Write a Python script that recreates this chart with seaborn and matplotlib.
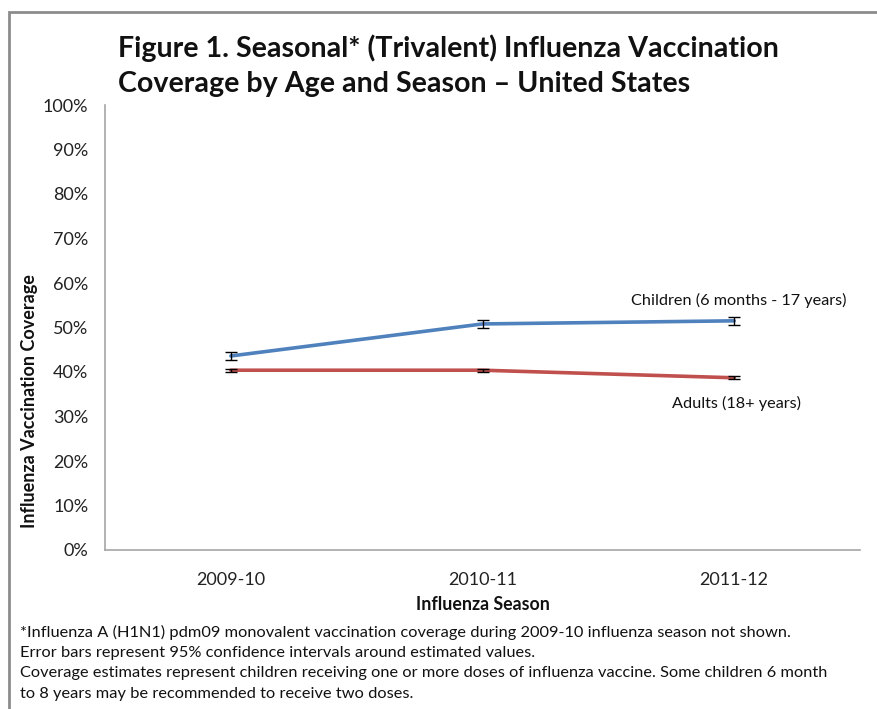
import matplotlib
matplotlib.use("Agg")
import matplotlib.pyplot as plt
import matplotlib.patches as mpatches
from matplotlib.ticker import PercentFormatter
import seaborn as sns
import pandas as pd
import numpy as np

seasons = ["2009-10", "2010-11", "2011-12"]
children = [43.6, 50.8, 51.5]
children_err = [0.9, 0.9, 0.9]
adults = [40.4, 40.4, 38.7]
adults_err = [0.3, 0.3, 0.3]
series_names = ["Children (6 months - 17 years)", "Adults (18+ years)"]
colors = ["#4f81bd", "#c0504d"]

sns.set_style("white")
plt.rcParams['font.family'] = ['Lato', 'DejaVu Sans']

df = pd.DataFrame({
    "season": seasons * 2,
    "coverage": children + adults,
    "err": children_err + adults_err,
    "group": [series_names[0]] * 3 + [series_names[1]] * 3,
})

fig = plt.figure(figsize=(8.77, 7.09), dpi=100)
ax = fig.add_axes([105/877, 1 - 550/709, (860-105)/877, (550-105)/709])

sns.lineplot(data=df, x="season", y="coverage", hue="group", palette=colors,
             linewidth=2.6, ax=ax, legend=False, sort=False)

xpos = np.arange(len(seasons))
for vals, errs in [(children, children_err), (adults, adults_err)]:
    ax.errorbar(xpos, vals, yerr=errs, fmt="none", ecolor="black",
                elinewidth=1, capsize=4, capthick=1, zorder=5)

ax.set_xlim(-0.5, 2.5)
ax.set_ylim(0, 100)
ax.set_yticks(np.arange(0, 101, 10))
ax.yaxis.set_major_formatter(PercentFormatter(decimals=0))
ax.tick_params(axis="both", length=0, labelsize=13, colors="#222222")
ax.tick_params(axis="y", pad=12)
ax.tick_params(axis="x", pad=16)
ax.set_xlabel("")
ax.set_ylabel("")
for s in ["top", "right"]:
    ax.spines[s].set_visible(False)
for s in ["left", "bottom"]:
    ax.spines[s].set_color("#a6a6a6")
    ax.spines[s].set_linewidth(1.2)

ax.text(2.02, 56.0, series_names[0], ha="center", va="center", fontsize=11.7, color="#111111")
ax.text(2.01, 33.0, series_names[1], ha="center", va="center", fontsize=11.7, color="#111111")

fig.text(118/877, 1 - 48/709, "Figure 1. Seasonal* (Trivalent) Influenza Vaccination",
         fontsize=20.6, fontweight="bold", ha="left", va="center", color="#111111")
fig.text(118/877, 1 - 84/709, "Coverage by Age and Season \u2013 United States",
         fontsize=20.6, fontweight="bold", ha="left", va="center", color="#111111")

fig.text(30/877, 1 - 401/709, "Influenza Vaccination Coverage", rotation=90,
         fontsize=13, fontweight="bold", ha="center", va="center", color="#111111")
fig.text(483/877, 1 - 605/709, "Influenza Season",
         fontsize=12.8, fontweight="bold", ha="center", va="center", color="#111111")

notes = [
    "*Influenza A (H1N1) pdm09 monovalent vaccination coverage during 2009-10 influenza season not shown.",
    "Error bars represent 95% confidence intervals around estimated values.",
    "Coverage estimates represent children receiving one or more doses of influenza vaccine. Some children 6 month",
    "to 8 years may be recommended to receive two doses.",
]
for i, line in enumerate(notes):
    fig.text(20/877, 1 - (632 + i * 20.7)/709, line, fontsize=11.8, ha="left", va="center", color="#111111")

frame = mpatches.Rectangle((9/877, -0.05), 1.0, 1 - 12/709 + 0.05, transform=fig.transFigure,
                           fill=False, edgecolor="#8c8c8c", linewidth=2, zorder=0)
fig.patches.append(frame)

fig.savefig("out.png", dpi=100)
